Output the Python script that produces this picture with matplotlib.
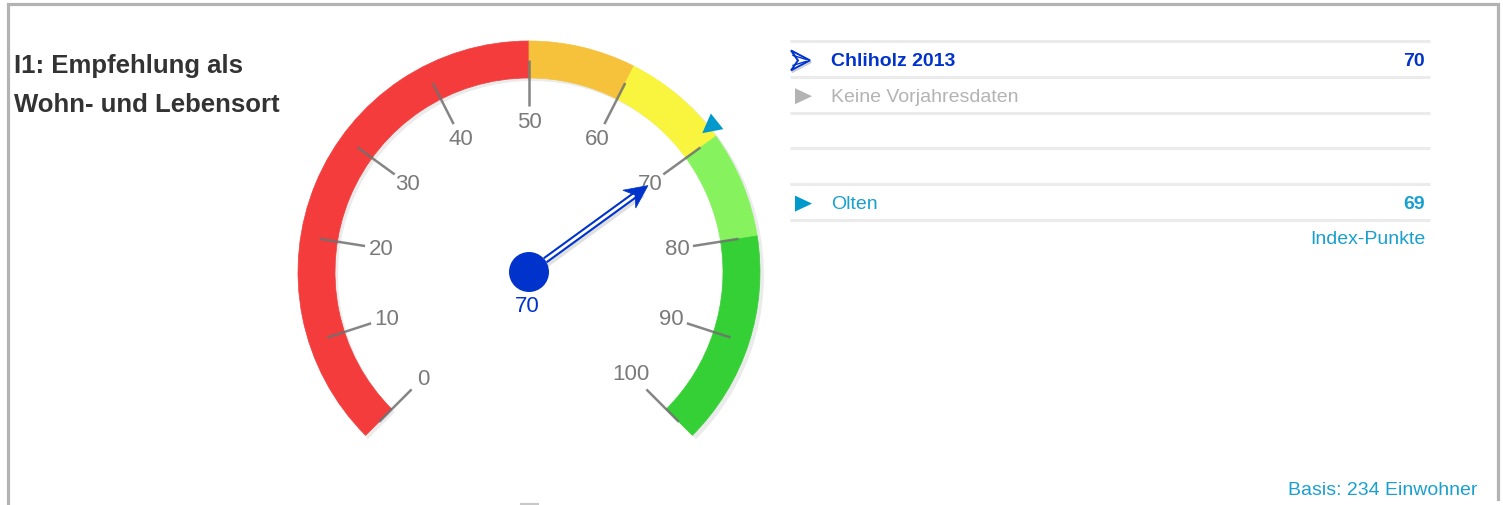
import numpy as np
import matplotlib
matplotlib.use('Agg')
import matplotlib.pyplot as plt
from matplotlib import font_manager
from matplotlib.patches import Wedge, Circle, Polygon

# Gauge data
gauge_value = 70          # Chliholz 2013
compare_value = 69        # Olten
tick_values = list(range(0, 101, 10))
band_starts = [0, 50, 60, 70, 80]
band_ends = [50, 60, 70, 80, 100]
band_colors = ['#f43c3c', '#f6c23c', '#f9f53e', '#86f35e', '#35d035']

# Side panel data
row_labels = ['Chliholz 2013', 'Keine Vorjahresdaten', '', '', 'Olten']
row_values = ['70', '', '', '', '69']
row_colors = ['#0033cc', '#b3b3b3', None, None, '#1aa0d0']
row_bold = [True, False, False, False, False]
unit_label = 'Index-Punkte'
basis_label = 'Basis: 234 Einwohner'
title_lines = ['I1: Empfehlung als', 'Wohn- und Lebensort']

names = {f.name for f in font_manager.fontManager.ttflist}
NARROW = 'Liberation Sans Narrow' if 'Liberation Sans Narrow' in names else 'Liberation Sans'

W, H = 1503, 506
fig = plt.figure(figsize=(W / 100, H / 100), dpi=100)
ax = fig.add_axes([0, 0, 1, 1])
ax.set_xlim(0, W)
ax.set_ylim(0, H)
ax.axis('off')


def py(y):
    # pixel row (top down) -> data y
    return H - y


def ang(v):
    # 0 sits bottom left, 100 bottom right, 270 degree sweep
    return np.radians(225 - 2.7 * v)


cx, cy = 529, py(273)
r_out, r_in = 231, 194

# frame
ax.plot([8, 8, 1498, 1498], [0, py(5), py(5), py(500)], color='#b3b3b3', lw=2.3,
        solid_joinstyle='miter')
ax.plot([521, 538], [py(505), py(505)], color='#c8c8c8', lw=1.5)

# title
for i, t in enumerate(title_lines):
    ax.text(14, py(73 + 39 * i), t, fontsize=18.5, fontweight='bold', color='#333333',
            family=NARROW, ha='left', va='baseline')

# gauge shadow + bands
ax.add_patch(Wedge((cx + 3, cy - 3), r_out + 1, 225 - 2.7 * 100, 225,
                   width=r_out - r_in + 1, color='#000000', alpha=0.08, lw=0))
for s, e, c in zip(band_starts, band_ends, band_colors):
    ax.add_patch(Wedge((cx, cy), r_out, 225 - 2.7 * e, 225 - 2.7 * s,
                       width=r_out - r_in, facecolor=c, edgecolor=c, lw=0.5))

# ticks and labels
for v in tick_values:
    a = ang(v)
    ax.plot([cx + 166 * np.cos(a), cx + 212 * np.cos(a)],
            [cy + 166 * np.sin(a), cy + 212 * np.sin(a)],
            color='#707070', lw=1.8, alpha=0.85, solid_capstyle='butt')
    rl = 144 if v == 100 else 150
    ax.text(cx + rl * np.cos(a), cy + rl * np.sin(a), str(v), fontsize=16,
            color='#7a7a7a', family=NARROW, ha='center', va='center')

# comparison marker (Olten)
a = ang(compare_value)
u = np.array([np.cos(a), np.sin(a)])
n = np.array([-np.sin(a), np.cos(a)])
c0 = np.array([cx, cy])
ax.add_patch(Polygon([c0 + 222 * u, c0 + 241 * u + 10 * n, c0 + 241 * u - 10 * n],
                     closed=True, facecolor='#0099cc', edgecolor='none', zorder=5))

# needle
a = ang(gauge_value)
u = np.array([np.cos(a), np.sin(a)])
n = np.array([-np.sin(a), np.cos(a)])
p0 = c0 + 20 * u
p1 = c0 + 134 * u
sh = np.array([2, -3])
ax.plot([p0[0] + sh[0], p1[0] + sh[0]], [p0[1] + sh[1], p1[1] + sh[1]],
        color='#000000', alpha=0.12, lw=5, zorder=5)
ax.plot([p0[0], p1[0]], [p0[1], p1[1]], color='#0033cc', lw=5, zorder=6,
        solid_capstyle='butt')
ax.plot([p0[0], p1[0]], [p0[1], p1[1]], color='white', lw=2, zorder=7,
        solid_capstyle='butt')
tip = c0 + 147 * u
head = [tip, c0 + 124 * u + 11 * n, c0 + 131 * u, c0 + 124 * u - 11 * n]
ax.add_patch(Polygon(head, closed=True, facecolor='#0033cc', edgecolor='#0033cc',
                     lw=0.5, zorder=8))
ax.add_patch(Circle((cx, cy), 20, facecolor='#0033cc', edgecolor='none', zorder=9))
ax.text(cx - 2, cy - 34, str(gauge_value), fontsize=16, color='#0033cc',
        family=NARROW, ha='center', va='center')

# side panel
x0, x1 = 790, 1430
line_top = 42
row_h = 35.8
for i in range(len(row_labels) + 1):
    y = py(line_top + i * row_h)
    ax.plot([x0, x1], [y, y], color='#ebebeb', lw=2.2, solid_capstyle='butt')

for i, (lab, val, col, b) in enumerate(zip(row_labels, row_values, row_colors, row_bold)):
    if not lab:
        continue
    yc = py(line_top + (i + 0.5) * row_h + 1.5)
    if i == 0:
        icon = [(791, yc + 10), (810, yc), (791, yc - 10), (798, yc)]
        ax.add_patch(Polygon([(p[0] + 1, p[1] - 2) for p in icon], closed=True,
                             facecolor='none', edgecolor='#cccccc', lw=1.2))
        ax.add_patch(Polygon(icon, closed=True, facecolor='white', edgecolor=col, lw=1.4))
        ax.plot([793, 806], [yc + 5, yc + 1], color=col, lw=1.0)
        ax.plot([793, 806], [yc - 5, yc - 1], color=col, lw=1.0)
    else:
        ax.add_patch(Polygon([(795, yc + 8), (812, yc), (795, yc - 8)], closed=True,
                             facecolor=col if i == 1 else '#0099cc', edgecolor='none'))
    ax.text(831, yc, lab, fontsize=14, color=col, family=NARROW,
            fontweight='bold' if b else 'normal', ha='left', va='center')
    if val:
        ax.text(1425, yc, val, fontsize=14, color=col, family=NARROW,
                fontweight='bold', ha='right', va='center')

ax.text(1425, py(240), unit_label, fontsize=14, color='#1aa0d0', family=NARROW,
        ha='right', va='center')
ax.text(1477, py(491), basis_label, fontsize=14, color='#1aa0d0', family=NARROW,
        ha='right', va='center')

fig.savefig('out.png', dpi=100)
